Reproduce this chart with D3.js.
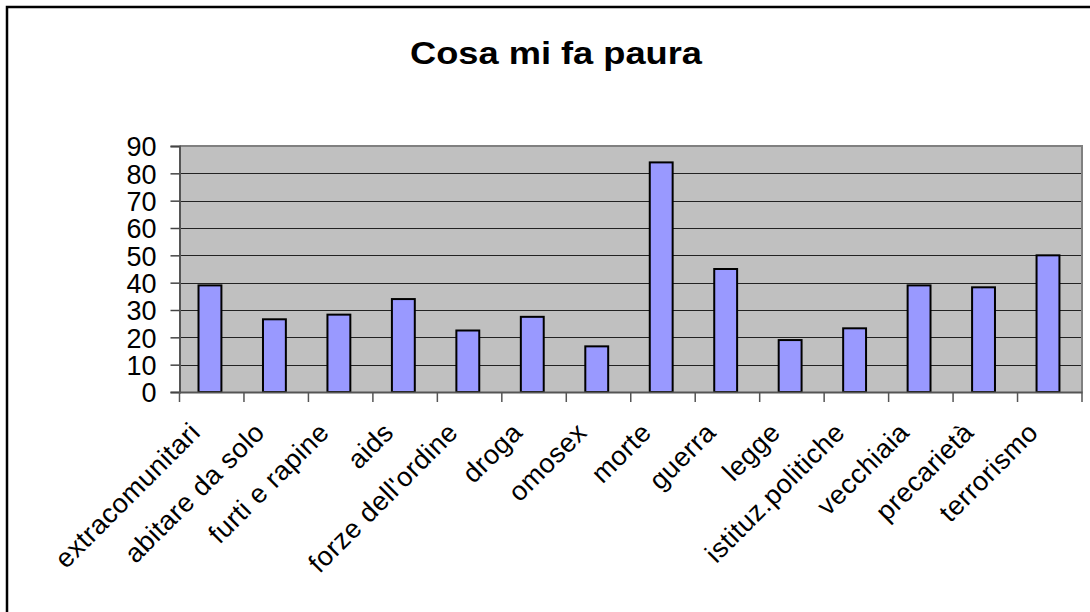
<!DOCTYPE html>
<html><head><meta charset="utf-8">
<script src="https://cdn.jsdelivr.net/npm/d3@7"></script>
<style>html,body{margin:0;padding:0;background:#fff;overflow:hidden}</style>
</head><body>
<svg id="c" width="1090" height="612"></svg>
<script>
const categories = ["extracomunitari","abitare da solo","furti e rapine","aids","forze dell'ordine","droga","omosex","morte","guerra","legge","istituz.politiche","vecchiaia","precarietà","terrorismo"];
const values = [39, 26.6, 28.3, 34, 22.5, 27.5, 16.7, 84, 45, 19, 23.3, 39, 38.3, 50];
const yTicks = [0,10,20,30,40,50,60,70,80,90];
const title = "Cosa mi fa paura";

const svg = d3.select("#c");
const font = "'Liberation Sans', Arial, sans-serif";
// outer chart border
svg.append("rect").attr("x",7).attr("y",7).attr("width",1100).attr("height",620)
  .attr("fill","#fff").attr("stroke","#000").attr("stroke-width",2.5);

const L=179.5, R=1082, T=146, B=392;
const x = d3.scaleBand().domain(categories).range([L,R]).padding(0);
const y = d3.scaleLinear().domain([0,90]).range([B,T]);

svg.append("rect").attr("x",L).attr("y",T).attr("width",R-L).attr("height",B-T).attr("fill","#c0c0c0");

// gridlines
svg.append("g").selectAll("line").data(yTicks.filter(d=>d>0&&d<90)).join("line")
  .attr("x1",L).attr("x2",R).attr("y1",d=>Math.round(y(d))+0.5).attr("y2",d=>Math.round(y(d))+0.5)
  .attr("stroke","#222").attr("stroke-width",1);
// top & right border
svg.append("path").attr("d",`M${L},${T}H${R}V${B}`).attr("fill","none").attr("stroke","#808080").attr("stroke-width",2);

// bars
const bw = x.bandwidth();
svg.append("g").selectAll("rect").data(categories).join("rect")
  .attr("x",d=>x(d)+bw*0.295).attr("width",bw*0.355)
  .attr("y",(d,i)=>y(values[i])).attr("height",(d,i)=>B-y(values[i]))
  .attr("fill","#9999ff").attr("stroke","#000").attr("stroke-width",2);

// y axis
const ya = svg.append("g").attr("transform",`translate(${L},0)`)
  .call(d3.axisLeft(y).tickValues(yTicks).tickSize(9).tickPadding(14).tickFormat(d3.format("d")));
ya.select(".domain").attr("stroke","#555").attr("stroke-width",2);
ya.selectAll(".tick line").attr("stroke","#444").attr("stroke-width",1.5);
ya.selectAll("text").attr("font-family",font).attr("font-size",27).attr("fill","#000").attr("dy","0.36em");

// x axis
const xa = svg.append("g").attr("transform",`translate(0,${B})`)
  .call(d3.axisBottom(x).tickSize(0).tickFormat(""));
xa.select(".domain").attr("stroke","#555").attr("stroke-width",2);
svg.append("g").selectAll("line").data(categories.concat(["_end"])).join("line")
  .attr("x1",(d,i)=>L+i*bw).attr("x2",(d,i)=>L+i*bw)
  .attr("y1",B).attr("y2",B+10).attr("stroke","#555").attr("stroke-width",1.5);

// x labels
svg.append("g").selectAll("text").data(categories).join("text")
  .attr("transform",d=>`translate(${x(d)+bw/2-10},${B+42}) rotate(-45)`)
  .attr("text-anchor","end").attr("font-family",font).attr("font-size",27)
  .attr("letter-spacing","0.5px").attr("fill","#000")
  .text(d=>d);

// title
svg.append("text").attr("x",556).attr("y",64).attr("text-anchor","middle")
  .attr("font-family",font).attr("font-size",31).attr("font-weight","bold").attr("fill","#000")
  .attr("textLength",292).attr("lengthAdjust","spacingAndGlyphs")
  .text(title);
</script>
</body></html>
